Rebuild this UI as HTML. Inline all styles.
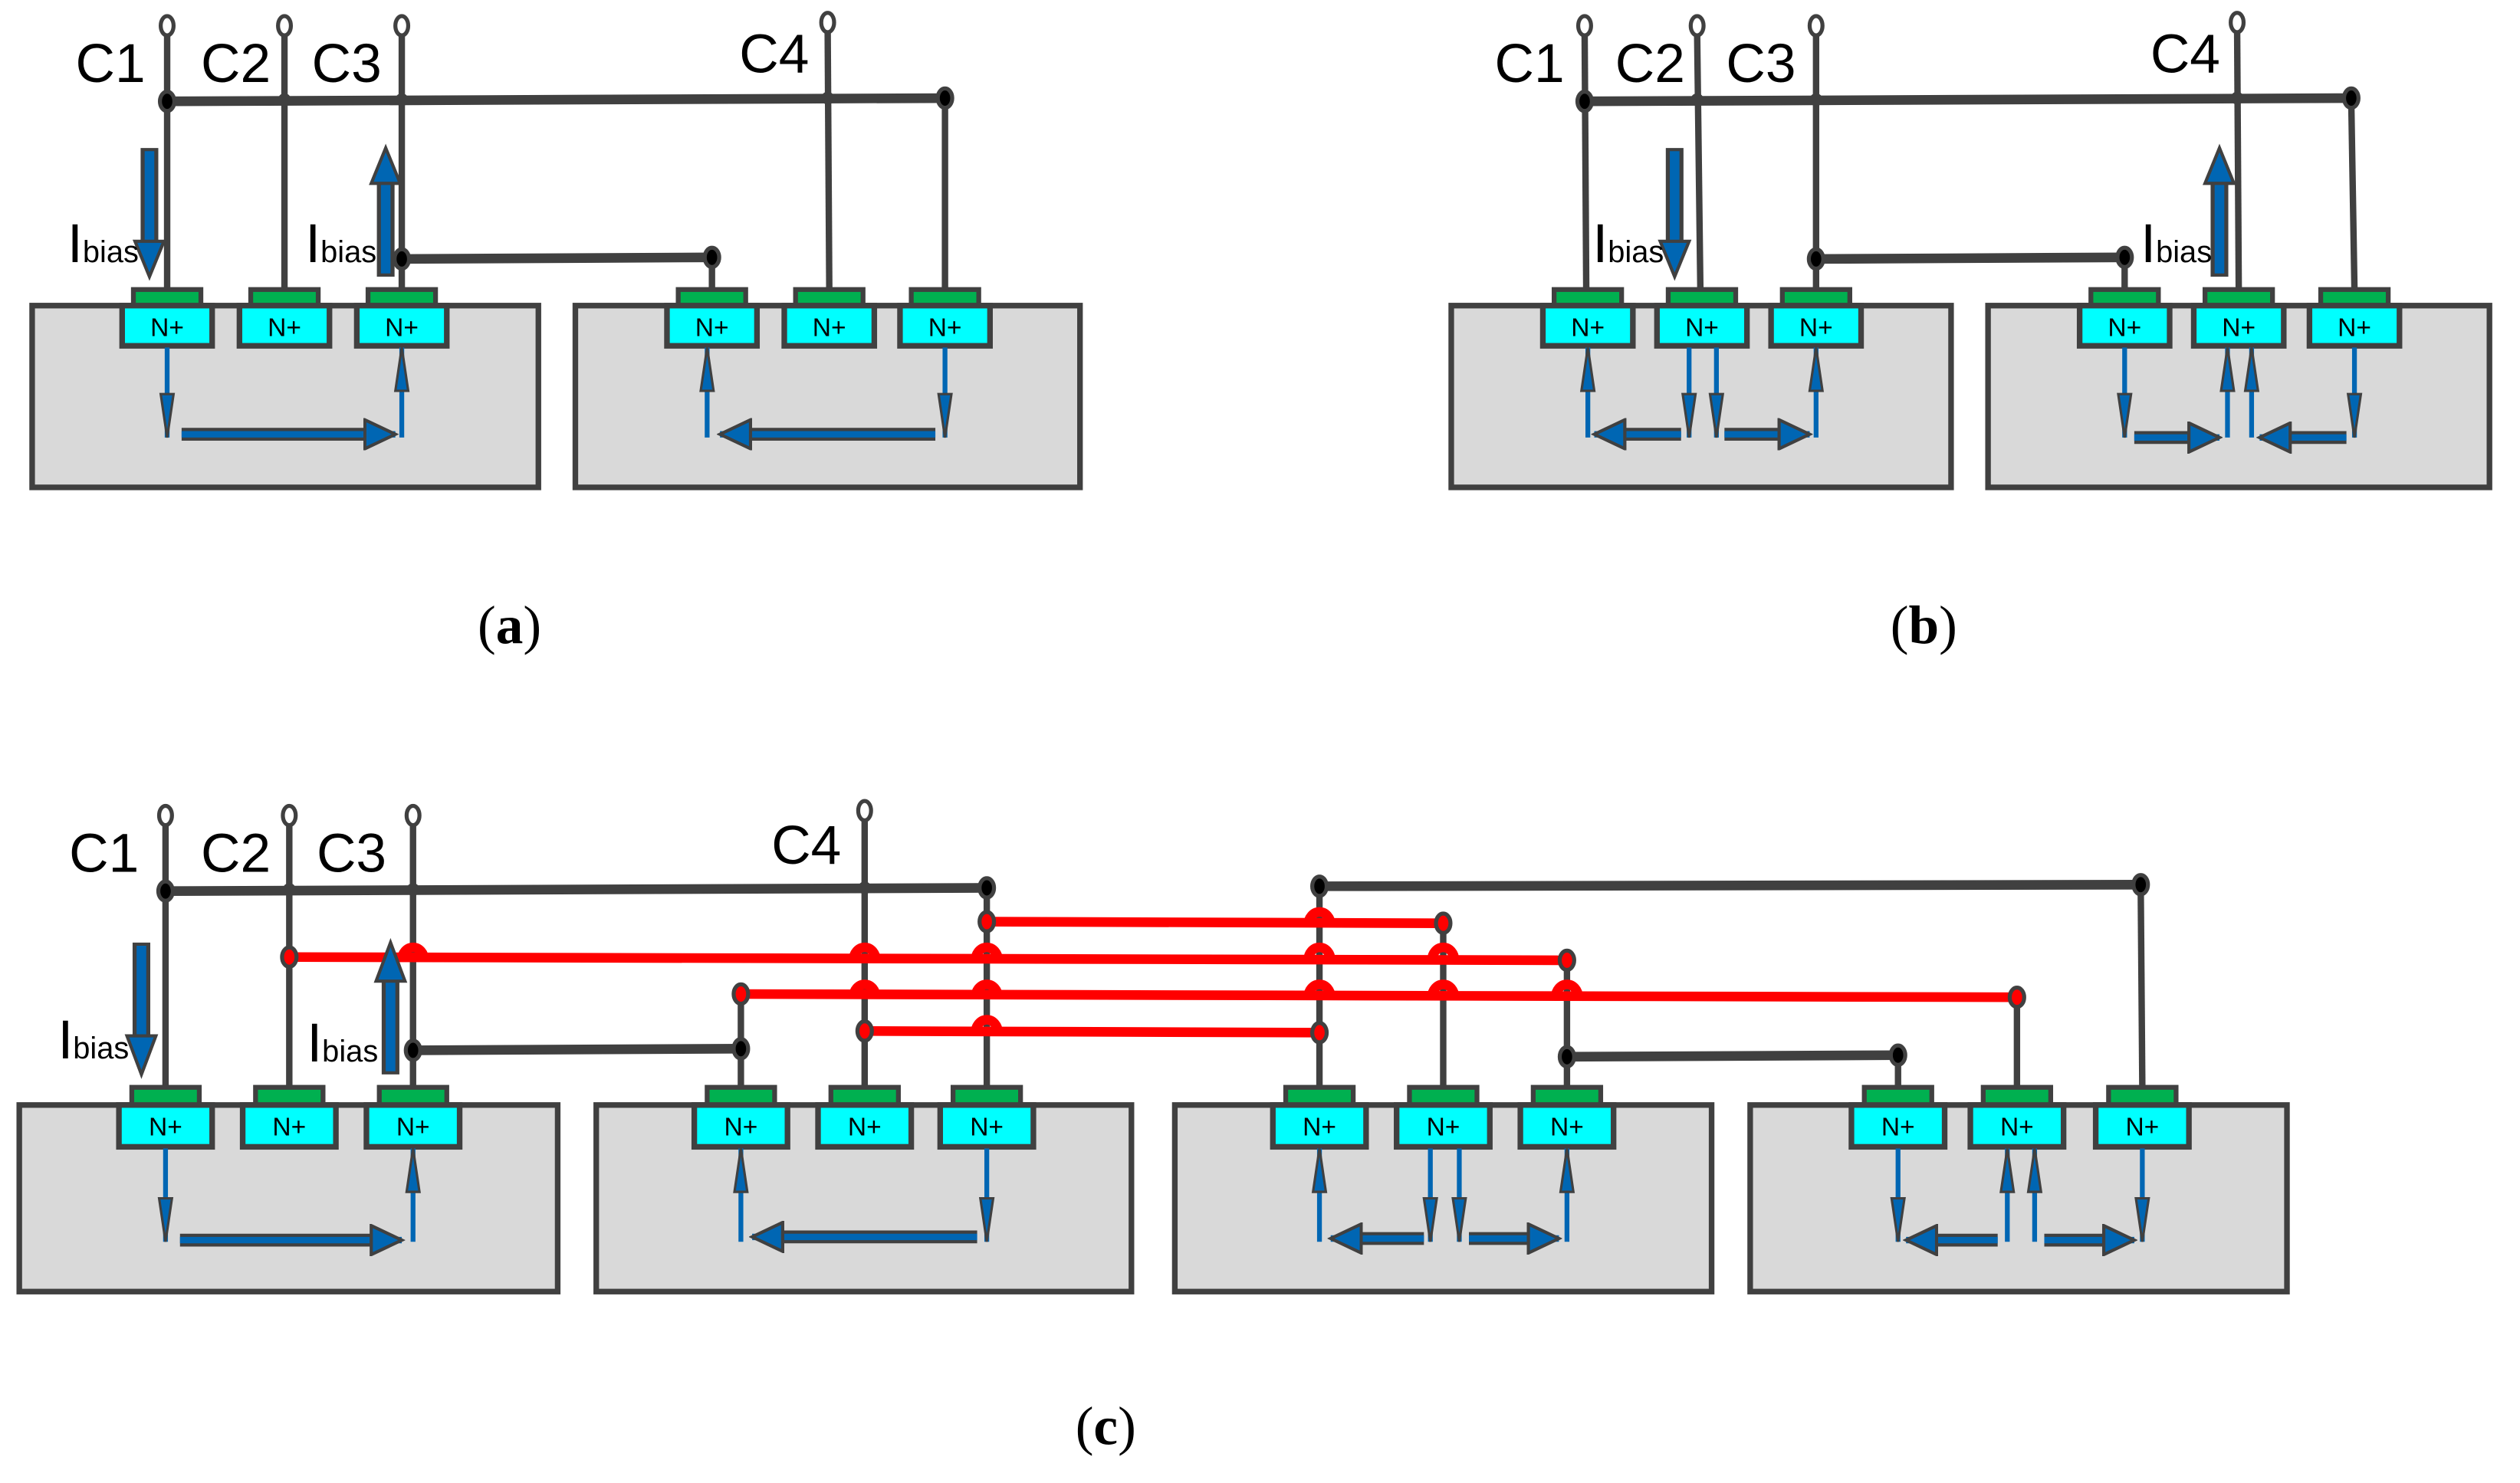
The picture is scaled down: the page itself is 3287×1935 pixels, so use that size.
<!DOCTYPE html>
<html><head><meta charset="utf-8"><style>
html,body{margin:0;padding:0;background:#fff;}
svg{display:block;}
.lab{font-family:"Liberation Sans",sans-serif;font-size:34px;fill:#000;}
.ib{font-family:"Liberation Sans",sans-serif;font-size:34px;fill:#000;}
.np{font-family:"Liberation Sans",sans-serif;font-size:16px;fill:#000;text-anchor:middle;}
.cap{font-family:"Liberation Serif",serif;font-size:34px;fill:#000;text-anchor:middle;}
.b{fill:#d9d9d9;stroke:#404040;stroke-width:3.5;}
.g{fill:#00b050;stroke:#404040;stroke-width:3;}
.n{fill:#00ffff;stroke:#404040;stroke-width:3.5;}
.w{stroke:#404040;stroke-width:4;fill:none;}
.bus{stroke:#404040;stroke-width:6;fill:none;}
.r{stroke:#ff0000;stroke-width:6;fill:none;}
.bump{stroke:#ff0000;stroke-width:6;fill:none;}
.dk{fill:#000;stroke:#404040;stroke-width:2.5;}
.dr{fill:#ff0000;stroke:#404040;stroke-width:2.5;}
.t{fill:#fff;stroke:#404040;stroke-width:2.5;}
.ta{stroke:#0066b3;stroke-width:3;marker-end:url(#th);}
.ha{stroke:#404040;stroke-width:8;}
.hb{stroke:#0066b3;stroke-width:4;marker-end:url(#hh);}
</style></head><body>
<svg width="3287" height="1935" viewBox="0 0 1568 922" preserveAspectRatio="none" xmlns="http://www.w3.org/2000/svg">
<defs>
<marker id="th" markerUnits="userSpaceOnUse" markerWidth="30" markerHeight="10" refX="28" refY="5" orient="auto"><path d="M1,1 L28,5 L1,9 Z" fill="#0066b3" stroke="#404040" stroke-width="1.5"/></marker>
<marker id="hh" markerUnits="userSpaceOnUse" markerWidth="22" markerHeight="20" refX="20" refY="10" orient="auto"><path d="M1,1 L20,10 L1,19 Z" fill="#0066b3" stroke="#404040" stroke-width="2"/></marker>
</defs>

<!-- ============ PANEL A ============ -->
<rect class="b" x="20" y="190" width="315" height="113"/>
<rect class="b" x="358" y="190" width="314" height="113"/>
<g>
<rect class="g" x="83" y="180" width="42" height="10"/><rect class="n" x="76" y="190" width="56" height="25"/><text class="np" x="104" y="209">N+</text>
<rect class="g" x="156" y="180" width="42" height="10"/><rect class="n" x="149" y="190" width="56" height="25"/><text class="np" x="177" y="209">N+</text>
<rect class="g" x="229" y="180" width="42" height="10"/><rect class="n" x="222" y="190" width="56" height="25"/><text class="np" x="250" y="209">N+</text>
<rect class="g" x="422" y="180" width="42" height="10"/><rect class="n" x="415" y="190" width="56" height="25"/><text class="np" x="443" y="209">N+</text>
<rect class="g" x="495" y="180" width="42" height="10"/><rect class="n" x="488" y="190" width="56" height="25"/><text class="np" x="516" y="209">N+</text>
<rect class="g" x="567" y="180" width="42" height="10"/><rect class="n" x="560" y="190" width="56" height="25"/><text class="np" x="588" y="209">N+</text>
</g>
<line class="w" x1="104" y1="21" x2="104" y2="180"/>
<line class="w" x1="177" y1="21" x2="177" y2="180"/>
<line class="w" x1="250" y1="21" x2="250" y2="180"/>
<line class="w" x1="515" y1="19" x2="516" y2="180"/>
<line class="w" x1="588" y1="62" x2="588" y2="180"/>
<line class="w" x1="443" y1="160" x2="443" y2="180"/>
<line class="bus" x1="104" y1="63" x2="588" y2="61"/>
<line class="bus" x1="250" y1="161" x2="443" y2="160"/>
<ellipse class="dk" cx="104" cy="63" rx="4.5" ry="6"/><ellipse class="dk" cx="588" cy="61" rx="4.5" ry="6"/>
<circle cx="177" cy="62" r="4" fill="#404040"/><circle cx="250" cy="62" r="4" fill="#404040"/><circle cx="515" cy="61" r="4" fill="#404040"/>
<ellipse class="dk" cx="250" cy="161" rx="4.5" ry="6"/><ellipse class="dk" cx="443" cy="160" rx="4.5" ry="6"/>
<ellipse class="t" cx="104" cy="16" rx="4" ry="6"/><ellipse class="t" cx="177" cy="16" rx="4" ry="6"/><ellipse class="t" cx="250" cy="16" rx="4" ry="6"/><ellipse class="t" cx="515" cy="14" rx="4" ry="6"/>
<text class="lab" x="47" y="51">C1</text><text class="lab" x="125" y="51">C2</text><text class="lab" x="194" y="51">C3</text><text class="lab" x="460" y="45">C4</text>
<line x1="93" y1="92" x2="93" y2="150" stroke="#404040" stroke-width="11"/><line x1="93" y1="94" x2="93" y2="150" stroke="#0066b3" stroke-width="6"/>
<path d="M84,150 L102,150 L93,172 Z" fill="#0066b3" stroke="#404040" stroke-width="2"/>
<line x1="240" y1="114" x2="240" y2="172" stroke="#404040" stroke-width="11"/><line x1="240" y1="114" x2="240" y2="170" stroke="#0066b3" stroke-width="6"/>
<path d="M231,114 L249,114 L240,92 Z" fill="#0066b3" stroke="#404040" stroke-width="2"/>
<text class="ib" x="42" y="163">I<tspan style="font-size:19px">bias</tspan></text>
<text class="ib" x="190" y="163">I<tspan style="font-size:19px">bias</tspan></text>
<line class="ta" x1="104" y1="216" x2="104" y2="272"/>
<line class="ta" x1="250" y1="272" x2="250" y2="216"/>
<line class="ha" x1="113" y1="270" x2="228" y2="270"/><line class="hb" x1="113" y1="270" x2="246" y2="270"/>
<line class="ta" x1="440" y1="272" x2="440" y2="216"/>
<line class="ta" x1="588" y1="216" x2="588" y2="272"/>
<line class="ha" x1="582" y1="270" x2="466" y2="270"/><line class="hb" x1="582" y1="270" x2="448" y2="270"/>
<text class="cap" x="317" y="400">(<tspan font-weight="bold">a</tspan>)</text>

<!-- ============ PANEL B ============ -->
<rect class="b" x="903" y="190" width="311" height="113"/>
<rect class="b" x="1237" y="190" width="312" height="113"/>
<g>
<rect class="g" x="967" y="180" width="42" height="10"/><rect class="n" x="960" y="190" width="56" height="25"/><text class="np" x="988" y="209">N+</text>
<rect class="g" x="1038" y="180" width="42" height="10"/><rect class="n" x="1031" y="190" width="56" height="25"/><text class="np" x="1059" y="209">N+</text>
<rect class="g" x="1109" y="180" width="42" height="10"/><rect class="n" x="1102" y="190" width="56" height="25"/><text class="np" x="1130" y="209">N+</text>
<rect class="g" x="1301" y="180" width="42" height="10"/><rect class="n" x="1294" y="190" width="56" height="25"/><text class="np" x="1322" y="209">N+</text>
<rect class="g" x="1372" y="180" width="42" height="10"/><rect class="n" x="1365" y="190" width="56" height="25"/><text class="np" x="1393" y="209">N+</text>
<rect class="g" x="1444" y="180" width="42" height="10"/><rect class="n" x="1437" y="190" width="56" height="25"/><text class="np" x="1465" y="209">N+</text>
</g>
<line class="w" x1="986" y1="21" x2="987" y2="180"/>
<line class="w" x1="1056" y1="21" x2="1058" y2="180"/>
<line class="w" x1="1130" y1="21" x2="1130" y2="180"/>
<line class="w" x1="1392" y1="19" x2="1393" y2="180"/>
<line class="w" x1="1463" y1="62" x2="1465" y2="180"/>
<line class="w" x1="1322" y1="160" x2="1322" y2="180"/>
<line class="bus" x1="986" y1="63" x2="1463" y2="61"/>
<line class="bus" x1="1130" y1="161" x2="1322" y2="160"/>
<ellipse class="dk" cx="986" cy="63" rx="4.5" ry="6"/><ellipse class="dk" cx="1463" cy="61" rx="4.5" ry="6"/>
<circle cx="1056" cy="62" r="4" fill="#404040"/><circle cx="1130" cy="62" r="4" fill="#404040"/><circle cx="1392" cy="61" r="4" fill="#404040"/>
<ellipse class="dk" cx="1130" cy="161" rx="4.5" ry="6"/><ellipse class="dk" cx="1322" cy="160" rx="4.5" ry="6"/>
<ellipse class="t" cx="986" cy="16" rx="4" ry="6"/><ellipse class="t" cx="1056" cy="16" rx="4" ry="6"/><ellipse class="t" cx="1130" cy="16" rx="4" ry="6"/><ellipse class="t" cx="1392" cy="14" rx="4" ry="6"/>
<text class="lab" x="930" y="51">C1</text><text class="lab" x="1005" y="51">C2</text><text class="lab" x="1074" y="51">C3</text><text class="lab" x="1338" y="45">C4</text>
<line x1="1042" y1="92" x2="1042" y2="150" stroke="#404040" stroke-width="11"/><line x1="1042" y1="94" x2="1042" y2="150" stroke="#0066b3" stroke-width="6"/>
<path d="M1033,150 L1051,150 L1042,172 Z" fill="#0066b3" stroke="#404040" stroke-width="2"/>
<line x1="1381" y1="114" x2="1381" y2="172" stroke="#404040" stroke-width="11"/><line x1="1381" y1="114" x2="1381" y2="170" stroke="#0066b3" stroke-width="6"/>
<path d="M1372,114 L1390,114 L1381,92 Z" fill="#0066b3" stroke="#404040" stroke-width="2"/>
<text class="ib" x="991" y="163">I<tspan style="font-size:19px">bias</tspan></text>
<text class="ib" x="1332" y="163">I<tspan style="font-size:19px">bias</tspan></text>
<line class="ta" x1="988" y1="272" x2="988" y2="216"/>
<line class="ta" x1="1051" y1="216" x2="1051" y2="272"/>
<line class="ta" x1="1068" y1="216" x2="1068" y2="272"/>
<line class="ta" x1="1130" y1="272" x2="1130" y2="216"/>
<line class="ha" x1="1046" y1="270" x2="1008" y2="270"/><line class="hb" x1="1046" y1="270" x2="992" y2="270"/>
<line class="ha" x1="1073" y1="270" x2="1110" y2="270"/><line class="hb" x1="1073" y1="270" x2="1126" y2="270"/>
<line class="ta" x1="1322" y1="216" x2="1322" y2="272"/>
<line class="ta" x1="1386" y1="272" x2="1386" y2="216"/>
<line class="ta" x1="1401" y1="272" x2="1401" y2="216"/>
<line class="ta" x1="1465" y1="216" x2="1465" y2="272"/>
<line class="ha" x1="1328" y1="272" x2="1364" y2="272"/><line class="hb" x1="1328" y1="272" x2="1381" y2="272"/>
<line class="ha" x1="1460" y1="272" x2="1423" y2="272"/><line class="hb" x1="1460" y1="272" x2="1406" y2="272"/>
<text class="cap" x="1197" y="400">(<tspan font-weight="bold">b</tspan>)</text>

<!-- ============ PANEL C ============ -->
<rect class="b" x="12" y="687" width="335" height="116"/>
<rect class="b" x="371" y="687" width="333" height="116"/>
<rect class="b" x="731" y="687" width="334" height="116"/>
<rect class="b" x="1089" y="687" width="334" height="116"/>
<g>
<rect class="g" x="82" y="676" width="42" height="11"/><rect class="n" x="74" y="687" width="58" height="26"/><text class="np" x="103" y="706">N+</text>
<rect class="g" x="159" y="676" width="42" height="11"/><rect class="n" x="151" y="687" width="58" height="26"/><text class="np" x="180" y="706">N+</text>
<rect class="g" x="236" y="676" width="42" height="11"/><rect class="n" x="228" y="687" width="58" height="26"/><text class="np" x="257" y="706">N+</text>
<rect class="g" x="440" y="676" width="42" height="11"/><rect class="n" x="432" y="687" width="58" height="26"/><text class="np" x="461" y="706">N+</text>
<rect class="g" x="517" y="676" width="42" height="11"/><rect class="n" x="509" y="687" width="58" height="26"/><text class="np" x="538" y="706">N+</text>
<rect class="g" x="593" y="676" width="42" height="11"/><rect class="n" x="585" y="687" width="58" height="26"/><text class="np" x="614" y="706">N+</text>
<rect class="g" x="800" y="676" width="42" height="11"/><rect class="n" x="792" y="687" width="58" height="26"/><text class="np" x="821" y="706">N+</text>
<rect class="g" x="877" y="676" width="42" height="11"/><rect class="n" x="869" y="687" width="58" height="26"/><text class="np" x="898" y="706">N+</text>
<rect class="g" x="954" y="676" width="42" height="11"/><rect class="n" x="946" y="687" width="58" height="26"/><text class="np" x="975" y="706">N+</text>
<rect class="g" x="1160" y="676" width="42" height="11"/><rect class="n" x="1152" y="687" width="58" height="26"/><text class="np" x="1181" y="706">N+</text>
<rect class="g" x="1234" y="676" width="42" height="11"/><rect class="n" x="1226" y="687" width="58" height="26"/><text class="np" x="1255" y="706">N+</text>
<rect class="g" x="1312" y="676" width="42" height="11"/><rect class="n" x="1304" y="687" width="58" height="26"/><text class="np" x="1333" y="706">N+</text>
</g>
<line class="w" x1="103" y1="512" x2="103" y2="676"/>
<line class="w" x1="180" y1="512" x2="180" y2="676"/>
<line class="w" x1="257" y1="512" x2="257" y2="676"/>
<line class="w" x1="538" y1="509" x2="538" y2="676"/>
<line class="w" x1="614" y1="553" x2="614" y2="676"/>
<line class="w" x1="461" y1="619" x2="461" y2="676"/>
<line class="w" x1="821" y1="551" x2="821" y2="676"/>
<line class="w" x1="898" y1="574" x2="898" y2="676"/>
<line class="w" x1="975" y1="596" x2="975" y2="676"/>
<line class="w" x1="1181" y1="657" x2="1181" y2="676"/>
<line class="w" x1="1255" y1="619" x2="1255" y2="676"/>
<line class="w" x1="1332" y1="550" x2="1333" y2="676"/>
<line class="bus" x1="103" y1="554" x2="614" y2="552"/>
<line class="bus" x1="821" y1="551" x2="1332" y2="550"/>
<line class="bus" x1="257" y1="653" x2="461" y2="652"/>
<line class="bus" x1="975" y1="657" x2="1181" y2="656"/>
<line class="r" x1="614" y1="573" x2="898" y2="574"/>
<line class="r" x1="180" y1="595" x2="975" y2="597"/>
<line class="r" x1="461" y1="618" x2="1255" y2="620"/>
<line class="r" x1="538" y1="641" x2="821" y2="642"/>
<g class="bump">
<path d="M814,575 A7,8 0 0 1 828,575"/>
<path d="M250,597 A7,8 0 0 1 264,597"/><path d="M531,597 A7,8 0 0 1 545,597"/><path d="M607,597 A7,8 0 0 1 621,597"/><path d="M814,597 A7,8 0 0 1 828,597"/><path d="M891,597 A7,8 0 0 1 905,597"/>
<path d="M531,620 A7,8 0 0 1 545,620"/><path d="M607,620 A7,8 0 0 1 621,620"/><path d="M814,620 A7,8 0 0 1 828,620"/><path d="M891,620 A7,8 0 0 1 905,620"/><path d="M968,620 A7,8 0 0 1 982,620"/>
<path d="M607,642 A7,8 0 0 1 621,642"/>
</g>
<circle cx="180" cy="553" r="4" fill="#404040"/><circle cx="257" cy="553" r="4" fill="#404040"/><circle cx="538" cy="552" r="4" fill="#404040"/>
<ellipse class="dk" cx="103" cy="554" rx="4.5" ry="6"/><ellipse class="dk" cx="614" cy="552" rx="4.5" ry="6"/>
<ellipse class="dk" cx="821" cy="551" rx="4.5" ry="6"/><ellipse class="dk" cx="1332" cy="550" rx="4.5" ry="6"/>
<ellipse class="dk" cx="257" cy="653" rx="4.5" ry="6"/><ellipse class="dk" cx="461" cy="652" rx="4.5" ry="6"/>
<ellipse class="dk" cx="975" cy="657" rx="4.5" ry="6"/><ellipse class="dk" cx="1181" cy="656" rx="4.5" ry="6"/>
<ellipse class="dr" cx="614" cy="573" rx="4.5" ry="6"/><ellipse class="dr" cx="898" cy="574" rx="4.5" ry="6"/>
<ellipse class="dr" cx="180" cy="595" rx="4.5" ry="6"/><ellipse class="dr" cx="975" cy="597" rx="4.5" ry="6"/>
<ellipse class="dr" cx="461" cy="618" rx="4.5" ry="6"/><ellipse class="dr" cx="1255" cy="620" rx="4.5" ry="6"/>
<ellipse class="dr" cx="538" cy="641" rx="4.5" ry="6"/><ellipse class="dr" cx="821" cy="642" rx="4.5" ry="6"/>
<ellipse class="t" cx="103" cy="507" rx="4" ry="6"/><ellipse class="t" cx="180" cy="507" rx="4" ry="6"/><ellipse class="t" cx="257" cy="507" rx="4" ry="6"/><ellipse class="t" cx="538" cy="504" rx="4" ry="6"/>
<text class="lab" x="43" y="542">C1</text><text class="lab" x="125" y="542">C2</text><text class="lab" x="197" y="542">C3</text><text class="lab" x="480" y="537">C4</text>
<line x1="88" y1="586" x2="88" y2="644" stroke="#404040" stroke-width="11"/><line x1="88" y1="588" x2="88" y2="644" stroke="#0066b3" stroke-width="6"/>
<path d="M79,644 L97,644 L88,668 Z" fill="#0066b3" stroke="#404040" stroke-width="2"/>
<line x1="243" y1="610" x2="243" y2="668" stroke="#404040" stroke-width="11"/><line x1="243" y1="610" x2="243" y2="666" stroke="#0066b3" stroke-width="6"/>
<path d="M234,610 L252,610 L243,586 Z" fill="#0066b3" stroke="#404040" stroke-width="2"/>
<text class="ib" x="36" y="658">I<tspan style="font-size:19px">bias</tspan></text>
<text class="ib" x="191" y="660">I<tspan style="font-size:19px">bias</tspan></text>
<line class="ta" x1="103" y1="714" x2="103" y2="772"/>
<line class="ta" x1="257" y1="772" x2="257" y2="714"/>
<line class="ha" x1="112" y1="771" x2="232" y2="771"/><line class="hb" x1="112" y1="771" x2="250" y2="771"/>
<line class="ta" x1="461" y1="772" x2="461" y2="714"/>
<line class="ta" x1="614" y1="714" x2="614" y2="772"/>
<line class="ha" x1="608" y1="769" x2="486" y2="769"/><line class="hb" x1="608" y1="769" x2="468" y2="769"/>
<line class="ta" x1="821" y1="772" x2="821" y2="714"/>
<line class="ta" x1="890" y1="714" x2="890" y2="772"/>
<line class="ta" x1="908" y1="714" x2="908" y2="772"/>
<line class="ta" x1="975" y1="772" x2="975" y2="714"/>
<line class="ha" x1="886" y1="770" x2="846" y2="770"/><line class="hb" x1="886" y1="770" x2="828" y2="770"/>
<line class="ha" x1="914" y1="770" x2="952" y2="770"/><line class="hb" x1="914" y1="770" x2="970" y2="770"/>
<line class="ta" x1="1181" y1="714" x2="1181" y2="772"/>
<line class="ta" x1="1249" y1="772" x2="1249" y2="714"/>
<line class="ta" x1="1266" y1="772" x2="1266" y2="714"/>
<line class="ta" x1="1333" y1="714" x2="1333" y2="772"/>
<line class="ha" x1="1243" y1="771" x2="1204" y2="771"/><line class="hb" x1="1243" y1="771" x2="1186" y2="771"/>
<line class="ha" x1="1272" y1="771" x2="1310" y2="771"/><line class="hb" x1="1272" y1="771" x2="1328" y2="771"/>
<text class="cap" x="688" y="898">(<tspan font-weight="bold">c</tspan>)</text>
</svg>
</body></html>
